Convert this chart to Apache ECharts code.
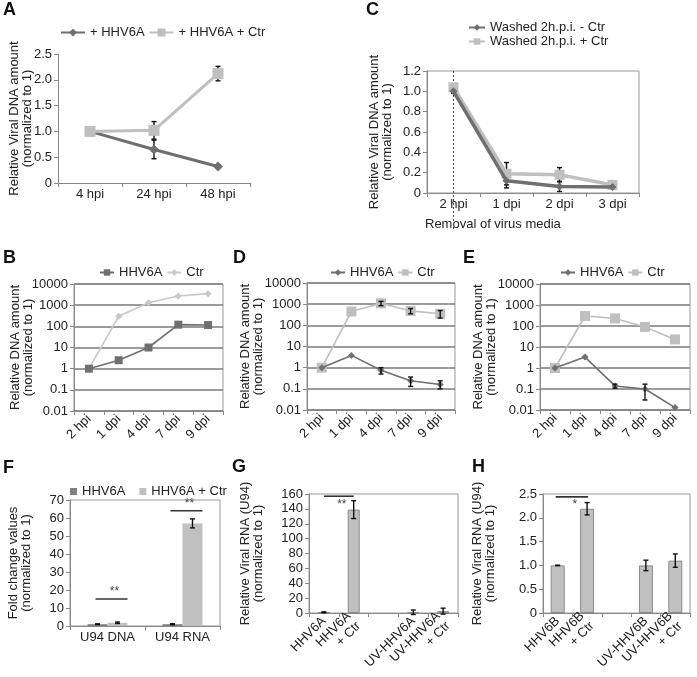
<!DOCTYPE html>
<html><head><meta charset="utf-8">
<script src="https://cdn.jsdelivr.net/npm/echarts@6/dist/echarts.min.js"></script>
<style>html,body{margin:0;padding:0;background:#fff}#c{width:697px;height:677px}</style>
</head><body><div id="c"></div>
<script>
// ---------- DATA ----------
// Panel A
const catsA = ['4 hpi', '24 hpi', '48 hpi'];
const aHHV6A = [1.0, 0.65, 0.32];
const aHHV6AErr = [null, 0.18, null];
const aCtr = [1.0, 1.02, 2.12];
const aCtrErr = [null, 0.17, 0.14];
// Panel C
const catsC = ['2 hpi', '1 dpi', '2 dpi', '3 dpi'];
const cRemovalCat = '2 hpi';
const cMinus = [1.0, 0.12, 0.065, 0.06];
const cMinusErr = [0.02, 0.07, 0.05, 0.02];
const cPlus = [1.04, 0.19, 0.18, 0.08];
const cPlusErr = [0.03, 0.11, 0.07, 0.02];
// Panels B, D, E (log scale)
const catsTime = ['2 hpi', '1 dpi', '4 dpi', '7 dpi', '9 dpi'];
const bHHV6A = [1, 2.5, 10, 120, 115];
const bCtr = [1, 300, 1300, 2700, 3500];
const dHHV6A = [1, 3.8, 0.75, 0.24, 0.16];
const dHHV6ALow = [null, null, 0.5, 0.13, 0.1];
const dHHV6AHigh = [null, null, 1.0, 0.36, 0.24];
const dCtr = [1, 450, 1100, 480, 350];
const dCtrLow = [null, null, 850, 350, 220];
const dCtrHigh = [null, null, 1350, 620, 500];
const eHHV6A = [1, 3.3, 0.14, 0.1, 0.013];
const eHHV6ALow = [null, null, 0.11, 0.03, null];
const eHHV6AHigh = [null, null, 0.17, 0.17, null];
const eCtr = [1, 300, 230, 90, 23];
// Panel F
const catsF = ['U94 DNA', 'U94 RNA'];
const fHHV6A = [1, 1];
const fHHV6AErr = [0.2, 0.3];
const fCtr = [1.8, 57];
const fCtrErr = [0.4, 2.5];
const fSig = [[0, 0, 15], [1, 1, 64]];
// Panel G
const catsG = ['HHV6A', 'HHV6A\n+ Ctr', '', 'UV-HHV6A', 'UV-HHV6A\n+ Ctr'];
const gVals = [1, 139, '-', 1, 2.5];
const gErr = [0.6, 12, null, 3, 4];
const gSig = [[0, 1, 157]];
// Panel H
const catsH = ['HHV6B', 'HHV6B\n+ Ctr', '', 'UV-HHV6B', 'UV-HHV6B\n+ Ctr'];
const hVals = [1.0, 2.19, '-', 1.0, 1.1];
const hErr = [0.005, 0.13, null, 0.11, 0.14];
const hSig = [[0, 1, 2.44]];

// ---------- HELPERS ----------
const FONT = '"Liberation Sans", Arial, sans-serif';
const TXT = '#222';
const AX = '#888';
const DARK = '#6f6f6f', LIGHT = '#bfbfbf';
const ZW = '\u200b';

function symErr(vals, errs) {
  const out = [];
  vals.forEach((v, i) => { if (errs[i] != null && v !== '-') out.push([i, v - errs[i], v + errs[i]]); });
  return out;
}
function rangeErr(lows, highs) {
  const out = [];
  lows.forEach((l, i) => { if (l != null) out.push([i, l, highs[i]]); });
  return out;
}
function errRender(dx, cap) {
  return function (params, api) {
    const i = api.value(0), lo = api.value(1), hi = api.value(2);
    const a = api.coord([i, hi]), b = api.coord([i, lo]);
    const x = a[0] + dx, c = cap;
    const st = { stroke: '#111', lineWidth: 1.4 };
    return { type: 'group', children: [
      { type: 'line', shape: { x1: x, y1: a[1], x2: x, y2: b[1] }, style: st },
      { type: 'line', shape: { x1: x - c, y1: a[1], x2: x + c, y2: a[1] }, style: st },
      { type: 'line', shape: { x1: x - c, y1: b[1], x2: x + c, y2: b[1] }, style: st }
    ]};
  };
}
function errSeries(gi, data, dx, z) {
  return { type: 'custom', xAxisIndex: gi, yAxisIndex: gi, data: data, silent: true, z: z,
    encode: { x: 0, y: [1, 2] }, renderItem: errRender(dx || 0, 2.5), clip: false };
}
function sigSeries(gi, data, dxA, dxB, text, textDy) {
  return { type: 'custom', xAxisIndex: gi, yAxisIndex: gi, data: data, silent: true, z: 6, clip: false,
    encode: { x: [0, 1], y: 2 },
    renderItem: function (params, api) {
      const p1 = api.coord([api.value(0), api.value(2)]);
      const p2 = api.coord([api.value(1), api.value(2)]);
      const x1 = p1[0] + dxA, x2 = p2[0] + dxB, y = p1[1];
      return { type: 'group', children: [
        { type: 'line', shape: { x1: x1, y1: y, x2: x2, y2: y }, style: { stroke: '#333', lineWidth: 1.6 } },
        { type: 'text', x: (x1 + x2) / 2 + 3, y: y + textDy,
          style: { text: text, fill: '#444', font: '12px ' + FONT, align: 'center', verticalAlign: 'middle' } }
      ]};
    }
  };
}
function xAx(gi, cats, extra) {
  return Object.assign({
    gridIndex: gi, type: 'category', data: cats, boundaryGap: true,
    axisLine: { show: true, onZero: false, lineStyle: { color: AX, width: 1 } },
    axisTick: { show: true, length: 4, inside: false, lineStyle: { color: AX } },
    axisLabel: { color: TXT, fontSize: 13, fontFamily: FONT, margin: 5, interval: 0 },
    splitLine: { show: false }
  }, extra || {});
}
function yAx(gi, name, nameGap, extra) {
  return Object.assign({
    gridIndex: gi, type: 'value', name: name, nameLocation: 'middle', nameRotate: 90, nameGap: nameGap,
    nameMoveOverlap: false,
    nameTextStyle: { color: TXT, fontSize: 13, fontFamily: FONT, lineHeight: 13 },
    axisLine: { show: true, lineStyle: { color: AX, width: 1 } },
    axisTick: { show: true, length: 4, inside: false, lineStyle: { color: AX } },
    axisLabel: { color: TXT, fontSize: 13, fontFamily: FONT, margin: 6 },
    splitLine: { show: false }
  }, extra || {});
}
const fmt1 = v => (v === 0 ? '0' : v.toFixed(1));
const fmtLog = v => String(Number(Number(v).toPrecision(1)));
const logY = (gi, gap) => yAx(gi, 'Relative DNA amount\n(normalized to 1)', gap, {
  type: 'log', logBase: 10, min: 0.01, max: 10000,
  axisLabel: { color: TXT, fontSize: 13, fontFamily: FONT, margin: 6, formatter: fmtLog },
  splitLine: { show: true, lineStyle: { color: '#7a7a7a', width: 1.6 } }
});
const rotX = (gi) => xAx(gi, catsTime, {
  axisLabel: { color: TXT, fontSize: 13, fontFamily: FONT, margin: 6, rotate: 45, interval: 0 }
});
const legTxt = { color: TXT, fontSize: 13, fontFamily: FONT };
const legFmt = n => n.replace(/\u200b/g, '');

const frame = { show: true, borderColor: '#999', borderWidth: 1, backgroundColor: 'transparent' };
const grids = [
  Object.assign({ left: 58, top: 54, width: 192, height: 129 }, { show: false }),          // 0 A
  Object.assign({ left: 427, top: 71, width: 212, height: 122 }, frame),                    // 1 C
  Object.assign({ left: 74, top: 284, width: 149, height: 127 }, frame),                    // 2 B
  Object.assign({ left: 307, top: 283, width: 148, height: 127 }, frame),                   // 3 D
  Object.assign({ left: 540, top: 284, width: 150, height: 126 }, frame),                   // 4 E
  Object.assign({ left: 70, top: 500, width: 150, height: 126 }, frame),                    // 5 F
  Object.assign({ left: 309, top: 494, width: 149, height: 128 }, frame),                   // 6 G
  Object.assign({ left: 543, top: 494, width: 147, height: 126 }, frame)                    // 7 H
];

function letter(t, x, y) {
  return { type: 'text', left: x, top: y, style: { text: t, font: 'bold 18px ' + FONT, fill: '#111' } };
}

const nB1 = 'HHV6A', nB2 = 'Ctr';
const nD1 = 'HHV6A' + ZW, nD2 = 'Ctr' + ZW;
const nE1 = 'HHV6A' + ZW + ZW, nE2 = 'Ctr' + ZW + ZW;
const nF1 = 'HHV6A' + ZW + ZW + ZW, nF2 = 'HHV6A + Ctr';

const option = {
  animation: false,
  backgroundColor: '#fff',
  textStyle: { fontFamily: FONT },
  grid: grids,
  xAxis: [
    xAx(0, catsA),
    xAx(1, catsC),
    rotX(2), rotX(3), rotX(4),
    xAx(5, catsF),
    xAx(6, catsG, { axisLabel: { color: TXT, fontSize: 13, fontFamily: FONT, margin: 6, rotate: 45, interval: 0, lineHeight: 14 } }),
    xAx(7, catsH, { axisLabel: { color: TXT, fontSize: 13, fontFamily: FONT, margin: 6, rotate: 45, interval: 0, lineHeight: 14 } })
  ],
  yAxis: [
    yAx(0, 'Relative Viral DNA amount\n(normalized to 1)', 24, { min: 0, max: 2.5, interval: 0.5, axisLabel: { color: TXT, fontSize: 13, fontFamily: FONT, margin: 6, formatter: fmt1 } }),
    yAx(1, 'Relative Viral DNA amount\n(normalized to 1)', 33, { min: 0, max: 1.2, interval: 0.2, axisLabel: { color: TXT, fontSize: 13, fontFamily: FONT, margin: 6, formatter: fmt1 } }),
    logY(2, 39), logY(3, 42), logY(4, 42),
    yAx(5, 'Fold change values\n(normalized to 1)', 37, { min: 0, max: 70, interval: 10 }),
    yAx(6, 'Relative Viral RNA (U94)\n(normalized to 1)', 44, { min: 0, max: 160, interval: 20 }),
    yAx(7, 'Relative Viral RNA (U94)\n(normalized to 1)', 46, { min: 0, max: 2.5, interval: 0.5, axisLabel: { color: TXT, fontSize: 13, fontFamily: FONT, margin: 6, formatter: fmt1 } })
  ],
  legend: [
    { data: ['+ HHV6A', '+ HHV6A + Ctr'], left: 60, top: 26, itemWidth: 24, itemHeight: 10, itemGap: 4, textStyle: legTxt, selectedMode: false, padding: 0 },
    { data: ['Washed 2h.p.i. - Ctr', 'Washed 2h.p.i. + Ctr'], orient: 'vertical', left: 468, top: 21, itemWidth: 16, itemHeight: 8, itemGap: 1, textStyle: legTxt, selectedMode: false, padding: 0 },
    { data: [nB1, nB2], left: 99, top: 266, itemWidth: 14, itemHeight: 8, itemGap: 4, textStyle: legTxt, formatter: legFmt, selectedMode: false, padding: 0 },
    { data: [nD1, nD2], left: 330, top: 266, itemWidth: 14, itemHeight: 8, itemGap: 4, textStyle: legTxt, formatter: legFmt, selectedMode: false, padding: 0 },
    { data: [nE1, nE2], left: 560, top: 266, itemWidth: 14, itemHeight: 8, itemGap: 4, textStyle: legTxt, formatter: legFmt, selectedMode: false, padding: 0 },
    { data: [nF1, nF2], left: 70, top: 485, icon: 'rect', itemWidth: 7, itemHeight: 7, itemGap: 14, textStyle: legTxt, formatter: legFmt, selectedMode: false, padding: 0 }
  ],
  graphic: [
    letter('A', 3, 1), letter('C', 366, 1), letter('B', 3, 249), letter('D', 233, 249),
    letter('E', 463, 249), letter('F', 3, 459), letter('G', 232, 458), letter('H', 472, 458),
    { type: 'text', left: 425, top: 218, style: { text: 'Removal of virus media', font: '13px ' + FONT, fill: TXT } }
  ],
  series: [
    // A
    errSeries(0, symErr(aHHV6A, aHHV6AErr), 0, 1),
    errSeries(0, symErr(aCtr, aCtrErr), 0, 1),
    { name: '+ HHV6A', type: 'line', xAxisIndex: 0, yAxisIndex: 0, data: aHHV6A, symbol: 'diamond', symbolSize: 10,
      lineStyle: { color: DARK, width: 3 }, itemStyle: { color: DARK }, z: 3 },
    { name: '+ HHV6A + Ctr', type: 'line', xAxisIndex: 0, yAxisIndex: 0, data: aCtr, symbol: 'rect', symbolSize: 11,
      lineStyle: { color: LIGHT, width: 3 }, itemStyle: { color: LIGHT }, z: 4 },
    // C
    { type: 'custom', xAxisIndex: 1, yAxisIndex: 1, data: [[catsC.indexOf(cRemovalCat), 1.2]], silent: true, clip: false, z: 0,
      encode: { x: 0, y: 1 },
      renderItem: function (params, api) {
        const top = api.coord([api.value(0), api.value(1)]);
        const bot = api.coord([api.value(0), 0]);
        return { type: 'line', shape: { x1: top[0], y1: top[1], x2: top[0], y2: bot[1] + 36 },
          style: { stroke: '#444', lineWidth: 1, lineDash: [2, 2] } };
      } },
    errSeries(1, symErr(cMinus, cMinusErr), 0, 1),
    errSeries(1, symErr(cPlus, cPlusErr), 0, 1),
    { name: 'Washed 2h.p.i. - Ctr', type: 'line', xAxisIndex: 1, yAxisIndex: 1, data: cMinus, symbol: 'diamond', symbolSize: 8,
      lineStyle: { color: DARK, width: 3.5 }, itemStyle: { color: DARK }, z: 4 },
    { name: 'Washed 2h.p.i. + Ctr', type: 'line', xAxisIndex: 1, yAxisIndex: 1, data: cPlus, symbol: 'rect', symbolSize: 10,
      lineStyle: { color: LIGHT, width: 3.5 }, itemStyle: { color: LIGHT }, z: 3 },
    // B
    { name: nB1, type: 'line', xAxisIndex: 2, yAxisIndex: 2, data: bHHV6A, symbol: 'rect', symbolSize: 8,
      lineStyle: { color: DARK, width: 1.6 }, itemStyle: { color: DARK }, z: 4 },
    { name: nB2, type: 'line', xAxisIndex: 2, yAxisIndex: 2, data: bCtr, symbol: 'diamond', symbolSize: 7,
      lineStyle: { color: '#c8c8c8', width: 1.6 }, itemStyle: { color: '#c8c8c8' }, z: 3 },
    // D
    { name: nD1, type: 'line', xAxisIndex: 3, yAxisIndex: 3, data: dHHV6A, symbol: 'diamond', symbolSize: 7,
      lineStyle: { color: DARK, width: 1.6 }, itemStyle: { color: DARK }, z: 4 },
    { name: nD2, type: 'line', xAxisIndex: 3, yAxisIndex: 3, data: dCtr, symbol: 'rect', symbolSize: 10,
      lineStyle: { color: LIGHT, width: 1.6 }, itemStyle: { color: LIGHT }, z: 3 },
    errSeries(3, rangeErr(dHHV6ALow, dHHV6AHigh), 0, 5),
    errSeries(3, rangeErr(dCtrLow, dCtrHigh), 0, 5),
    // E
    { name: nE1, type: 'line', xAxisIndex: 4, yAxisIndex: 4, data: eHHV6A, symbol: 'diamond', symbolSize: 7,
      lineStyle: { color: DARK, width: 1.6 }, itemStyle: { color: DARK }, z: 4 },
    { name: nE2, type: 'line', xAxisIndex: 4, yAxisIndex: 4, data: eCtr, symbol: 'rect', symbolSize: 10,
      lineStyle: { color: LIGHT, width: 1.6 }, itemStyle: { color: LIGHT }, z: 3 },
    errSeries(4, rangeErr(eHHV6ALow, eHHV6AHigh), 0, 5),
    // F
    { name: nF1, type: 'bar', xAxisIndex: 5, yAxisIndex: 5, data: fHHV6A, barWidth: 20, barGap: '0%',
      itemStyle: { color: '#7f7f7f' } },
    { name: nF2, type: 'bar', xAxisIndex: 5, yAxisIndex: 5, data: fCtr, barWidth: 20, barGap: '0%',
      itemStyle: { color: '#c0c0c0' } },
    errSeries(5, symErr(fHHV6A, fHHV6AErr), -10, 5),
    errSeries(5, symErr(fCtr, fCtrErr), 10, 5),
    sigSeries(5, fSig, -12, 20, '**', -7),
    // G
    { name: 'g', type: 'bar', xAxisIndex: 6, yAxisIndex: 6, data: gVals, barWidth: 12,
      itemStyle: { color: '#c0c0c0', borderColor: '#8a8a8a', borderWidth: 1 } },
    errSeries(6, symErr(gVals, gErr), 0, 5),
    sigSeries(6, gSig, 0, 0, '**', 8),
    // H
    { name: 'h', type: 'bar', xAxisIndex: 7, yAxisIndex: 7, data: hVals, barWidth: 14,
      itemStyle: { color: '#c0c0c0', borderColor: '#8a8a8a', borderWidth: 1 } },
    errSeries(7, symErr(hVals, hErr), 0, 5),
    sigSeries(7, hSig, -2, 1, '*', 8)
  ]
};
const chart = echarts.init(document.getElementById('c'), null, { renderer: 'canvas' });
chart.setOption(option);
</script></body></html>
